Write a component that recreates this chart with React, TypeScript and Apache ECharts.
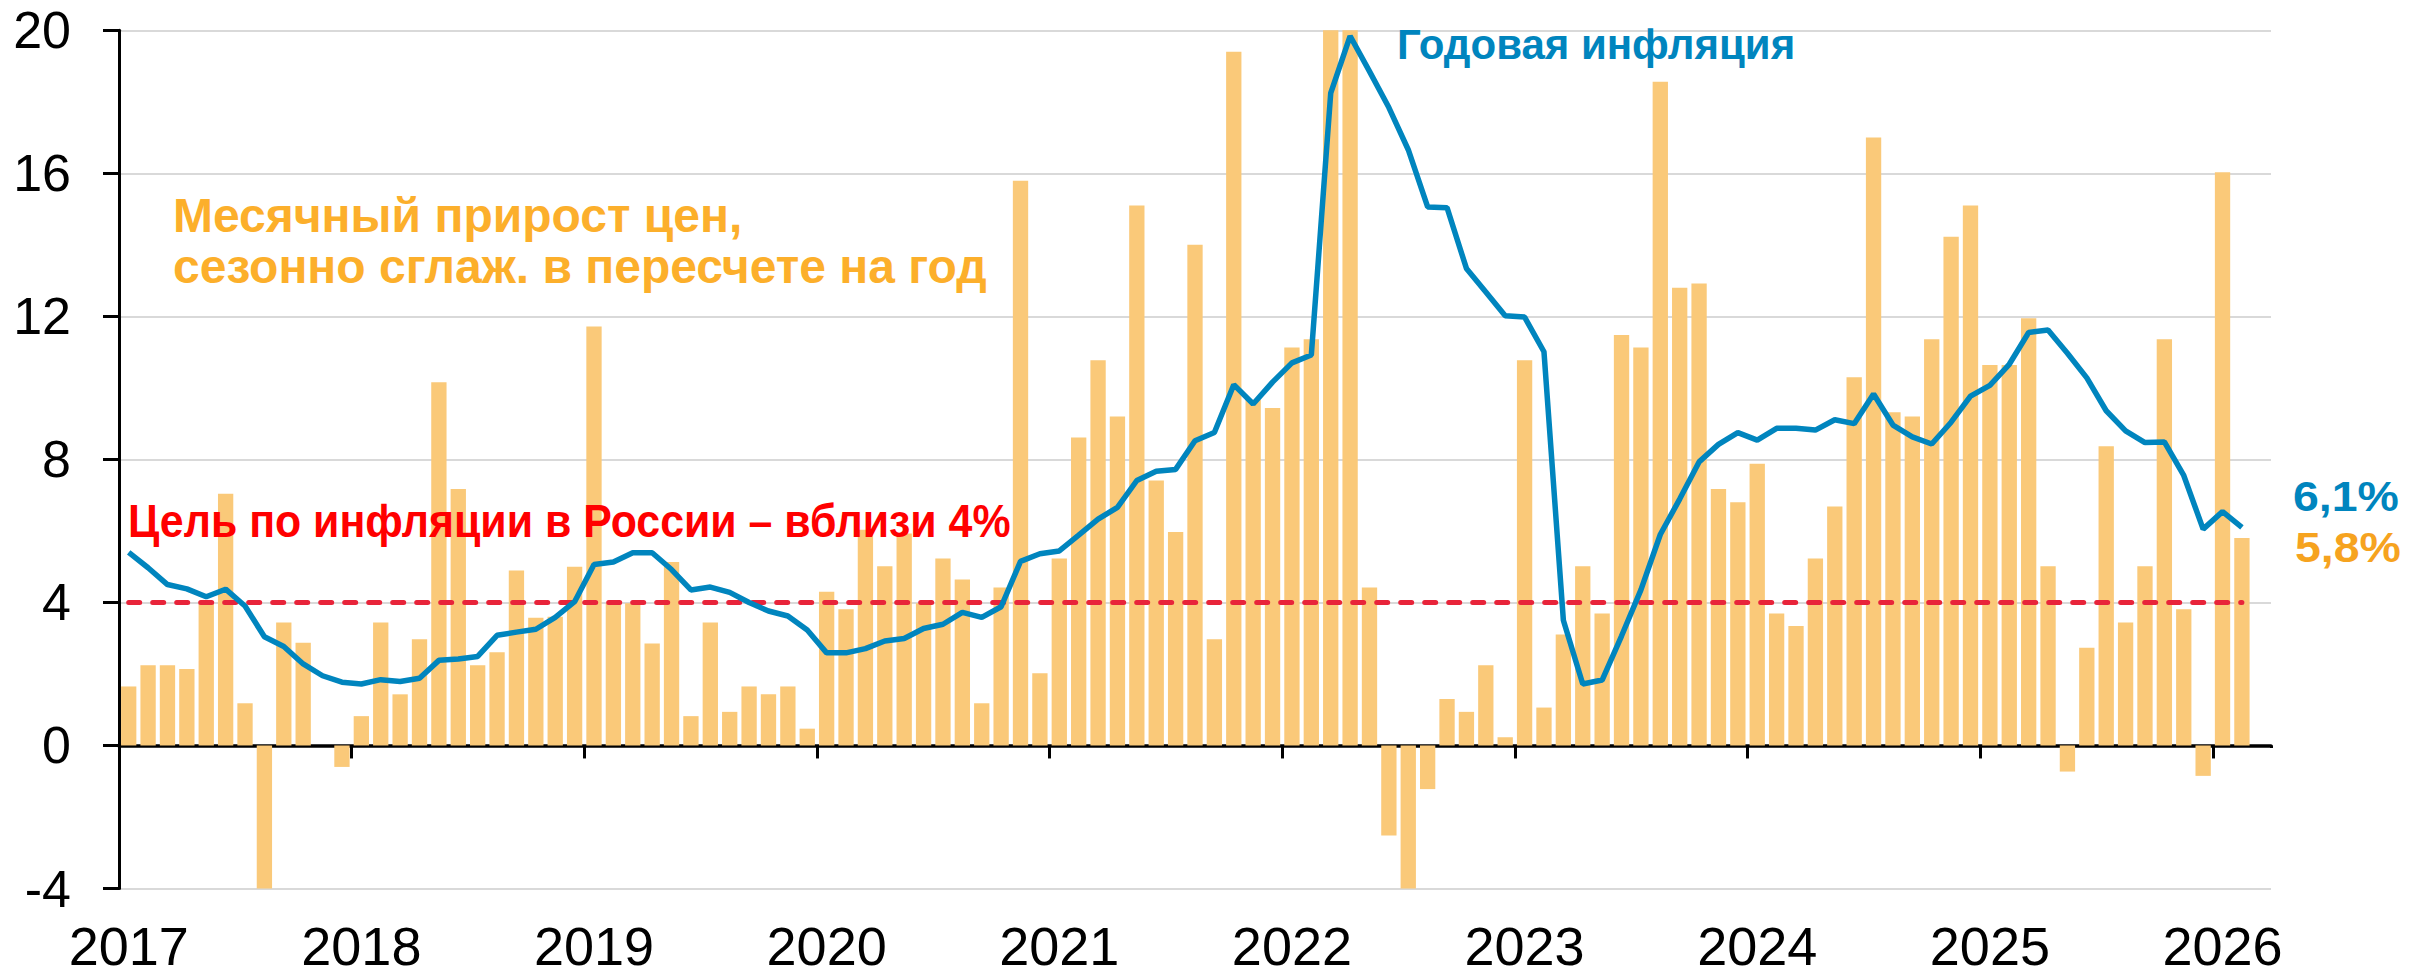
import React, { useEffect, useRef } from "react";
import * as echarts from "echarts";

const years = ["2017", "2018", "2019", "2020", "2021", "2022", "2023", "2024", "2025", "2026"];
const months: string[] = [];
for (const y of years) {
  for (let m = 1; m <= 12; m++) {
    months.push(`${y}-${String(m).padStart(2, "0")}`);
    if (y === "2026" && m === 3) break;
  }
}

// Monthly price growth, seasonally adjusted, annualized (%)
const monthlySaar: (number | null)[] = [
  1.65, 2.24, 2.24, 2.14, 4.02, 7.04, 1.18, -4.1, 3.44, 2.87, 0, -0.6,
  0.82, 3.44, 1.43, 2.97, 10.16, 7.17, 2.24, 2.61, 4.89, 3.57, 3.6, 5.0,
  11.72, 3.98, 3.98, 2.85, 5.13, 0.82, 3.44, 0.94, 1.65, 1.43, 1.65, 0.47,
  4.3, 3.81, 6.03, 5.01, 5.93, 3.98, 5.23, 4.64, 1.18, 4.42, 15.79, 2.02,
  5.23, 8.61, 10.77, 9.2, 15.1, 7.41, 5.97, 14.0, 2.97, 19.4, 9.67, 9.44,
  11.13, 11.36, 20, 20, 4.42, -2.52, -4.1, -1.22, 1.3, 0.94, 2.24, 0.23,
  10.77, 1.06, 3.1, 5.01, 3.69, 11.48, 11.13, 18.56, 12.8, 12.92, 7.17, 6.8,
  7.88, 3.69, 3.34, 5.23, 6.68, 10.3, 17.0, 9.32, 9.2, 11.36, 14.23, 15.1,
  10.64, 10.64, 11.95, 5.01, -0.73, 2.73, 8.37, 3.44, 5.01, 11.36, 3.81, -0.85,
  16.03, 5.8, null,
];

// Annual inflation (%)
const annualInflation: (number | null)[] = [
  5.4, 4.97, 4.5, 4.38, 4.16, 4.37, 3.9, 3.04, 2.77, 2.28, 1.95, 1.77,
  1.72, 1.84, 1.79, 1.88, 2.38, 2.42, 2.49, 3.08, 3.17, 3.25, 3.58, 4.02,
  5.06, 5.13, 5.39, 5.39, 4.92, 4.35, 4.43, 4.28, 4.0, 3.76, 3.62, 3.23,
  2.59, 2.59, 2.71, 2.92, 2.99, 3.27, 3.39, 3.72, 3.58, 3.88, 5.15, 5.36,
  5.44, 5.88, 6.33, 6.66, 7.41, 7.67, 7.72, 8.52, 8.75, 10.09, 9.55, 10.16,
  10.7, 10.92, 18.24, 19.84, 18.85, 17.84, 16.66, 15.06, 15.04, 13.34, 12.68, 12.02,
  11.98, 11.01, 3.5, 1.72, 1.83, 3.06, 4.35, 5.9, 6.89, 7.93, 8.42, 8.75,
  8.54, 8.87, 8.87, 8.82, 9.11, 9.0, 9.83, 8.96, 8.63, 8.43, 9.04, 9.77,
  10.07, 10.66, 11.55, 11.62, 10.97, 10.28, 9.36, 8.8, 8.47, 8.49, 7.55, 6.05,
  6.54, 6.1, null,
];

const TARGET = 4;
const yTicks = { min: -4, max: 20, interval: 4 };

const FONT = "'Liberation Sans', Arial, sans-serif";
const BAR = "#FAC979";
const BLUE = "#0085BE";
const ORANGE_TEXT = "#FCAF2B";
const ORANGE_LABEL = "#F6A31F";

export default function App() {
  const ref = useRef<HTMLDivElement>(null);

  useEffect(() => {
    if (!ref.current) return;
    const chart = echarts.init(ref.current, undefined, { renderer: "svg" });
    const txt = (
      text: string,
      x: number,
      y: number,
      size: number,
      color: string,
      scaleX = 1,
      lineHeight?: number
    ) => ({
      type: "text",
      x,
      y,
      scaleX,
      z: 100,
      style: {
        text,
        fill: color,
        font: `bold ${size}px ${FONT}`,
        lineHeight: lineHeight ?? Math.round(size * 1.15),
        align: "left",
        textAlign: "left",
        verticalAlign: "middle",
        textVerticalAlign: "middle",
      },
    });
    chart.setOption({
      animation: false,
      backgroundColor: "#ffffff",
      grid: { left: 119, right: 157, top: 30.3, bottom: 87.5, containLabel: false, outerBoundsMode: "none" },
      xAxis: [
        {
          type: "category",
          data: months,
          position: "bottom",
          axisLine: { show: false, onZero: false },
          axisTick: { show: false },
          splitLine: { show: false },
          axisLabel: {
            interval: 11,
            formatter: (v: string) => v.slice(0, 4),
            fontSize: 54,
            fontFamily: FONT,
            color: "#000",
            margin: 30,
          },
        },
        {
          type: "category",
          data: months,
          position: "top",
          axisLine: { show: true, onZero: true, lineStyle: { color: "#000", width: 3.5 } },
          axisTick: { show: true, interval: 11, inside: true, length: 13, lineStyle: { color: "#000", width: 3 } },
          axisLabel: { show: false },
          splitLine: { show: false },
        },
      ],
      yAxis: {
        type: "value",
        min: yTicks.min,
        max: yTicks.max,
        interval: yTicks.interval,
        axisLine: { show: true, lineStyle: { color: "#000", width: 3 } },
        axisTick: { show: true, length: 16, lineStyle: { color: "#000", width: 3 } },
        axisLabel: { fontSize: 52, fontFamily: FONT, color: "#000", margin: 48 },
        splitLine: { show: true, lineStyle: { color: "#D9D9D9", width: 2 } },
      },
      series: [
        {
          type: "bar",
          xAxisIndex: 0,
          data: monthlySaar,
          barCategoryGap: "21%",
          itemStyle: { color: BAR },
          z: 2,
          markLine: {
            silent: true,
            symbol: "none",
            label: { show: false },
            lineStyle: { color: "#E8243A", width: 5, type: [11, 13], cap: "round" },
            data: [[{ coord: [months[0], TARGET] }, { coord: [months[109], TARGET] }]],
          },
        },
        {
          type: "line",
          xAxisIndex: 0,
          data: annualInflation,
          symbol: "none",
          lineStyle: { color: BLUE, width: 5.5 },
          z: 5,
        },
      ],
      graphic: [
        { type: "rect", shape: { x: 2265, y: 748, width: 12, height: 16 }, style: { fill: "#fff" }, z: 50 },
        txt("Месячный прирост цен,", 173, 215, 48, ORANGE_TEXT),
        txt("сезонно сглаж. в пересчете на год", 173, 266, 48, ORANGE_TEXT),
        txt("Цель по инфляции в России – вблизи 4%", 128, 521, 47, "#FF0000", 0.912),
        txt("Годовая инфляция", 1397, 44, 42, BLUE),
        txt("6,1%", 2293, 496, 43, BLUE, 1.08, 43),
        txt("5,8%", 2295, 547, 43, ORANGE_LABEL, 1.08, 43),
      ],
    });
    return () => chart.dispose();
  }, []);

  return (
    <div
      ref={ref}
      style={{ position: "fixed", left: 0, top: 0, width: 2428, height: 976, background: "#fff" }}
    />
  );
}
